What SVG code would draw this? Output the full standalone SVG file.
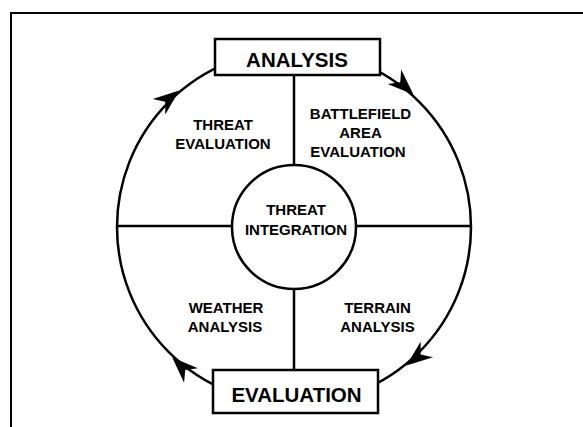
<svg xmlns="http://www.w3.org/2000/svg" width="583" height="427" viewBox="0 0 583 427">
<style>
.ln{fill:none;stroke:#000;stroke-width:2.5}
.box{fill:#fff;stroke:#000;stroke-width:2.5}
.t{font-family:"Liberation Sans",Arial,sans-serif;font-weight:bold;fill:#000;text-anchor:middle}
.s{font-size:15px}
.b{font-size:20.5px}
</style>
<defs>
<path id="ah" d="M0,0 L-26,-10 L-18,0 L-26,10 Z" fill="#000"/>
</defs>
<rect width="583" height="427" fill="#fff"/>
<g id="frame">
<path d="M11,427 L11,13 L583,13" fill="none" stroke="#000" stroke-width="2"/>
</g>
<g id="connectors">
<circle class="ln" cx="294" cy="227" r="177"/>
<line class="ln" x1="294" y1="75" x2="294" y2="164"/>
<line class="ln" x1="294" y1="290" x2="294" y2="370"/>
<line class="ln" x1="117" y1="226" x2="232" y2="226"/>
<line class="ln" x1="356" y1="226" x2="471" y2="226"/>
<use href="#ah" transform="translate(179.2,90.4) rotate(321)"/>
<use href="#ah" transform="translate(413.4,94.5) rotate(43)"/>
<use href="#ah" transform="translate(406.4,365.5) rotate(142)"/>
<use href="#ah" transform="translate(172.3,357.4) rotate(224)"/>
</g>
<g id="analysis">
<rect class="box" x="215" y="39" width="165" height="36"/>
<text class="t b" x="297" y="67" font-size="20">ANALYSIS</text>
</g>
<g id="evaluation">
<rect class="box" x="213" y="370" width="165" height="43"/>
<text class="t b" x="296.5" y="402">EVALUATION</text>
</g>
<g id="threat-integration">
<circle class="box" cx="294" cy="227" r="62"/>
<text class="t s" x="296" y="215">THREAT</text>
<text class="t s" x="296" y="235">INTEGRATION</text>
</g>
<g id="threat-evaluation">
<text class="t s" x="223" y="130">THREAT</text>
<text class="t s" x="223" y="149">EVALUATION</text>
</g>
<g id="battlefield-area-evaluation">
<text class="t s" x="360.5" y="119">BATTLEFIELD</text>
<text class="t s" x="360.5" y="138">AREA</text>
<text class="t s" x="358" y="157">EVALUATION</text>
</g>
<g id="weather-analysis">
<text class="t s" x="226" y="313">WEATHER</text>
<text class="t s" x="225" y="332">ANALYSIS</text>
</g>
<g id="terrain-analysis">
<text class="t s" x="377.5" y="313">TERRAIN</text>
<text class="t s" x="377.5" y="332">ANALYSIS</text>
</g>
</svg>
